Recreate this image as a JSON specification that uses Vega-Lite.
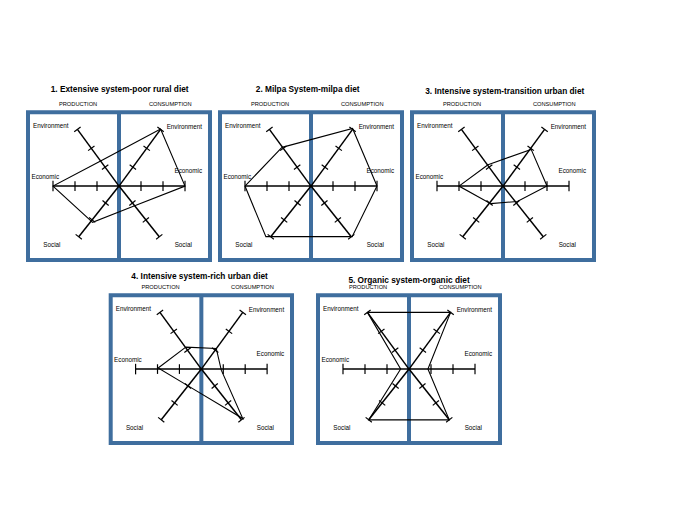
{
  "$schema": "https://vega.github.io/schema/vega-lite/v6.json",
  "background": "white",
  "padding": {"left": 26, "top": 85, "right": 0, "bottom": 0},
  "config": {"view": {"stroke": null}},
  "datasets": {
    "frame": [{"x": -4.136, "x2": 4.136, "y": -3.364, "y2": 3.364}],
    "mid": [{"x": 0, "y": -3.364, "y2": 3.364}],
    "spokes": [
      {"x": 0, "y": 0, "x2": -1.89, "y2": 2.58},
      {"x": 0, "y": 0, "x2": 1.89, "y2": 2.58},
      {"x": 0, "y": 0, "x2": -3, "y2": 0},
      {"x": 0, "y": 0, "x2": 3, "y2": 0},
      {"x": 0, "y": 0, "x2": -1.83, "y2": -2.31},
      {"x": 0, "y": 0, "x2": 1.83, "y2": -2.31}
    ],
    "ticks": [
      {"x": -1, "y": -0.22, "x2": -1, "y2": 0.22},
      {"x": -2, "y": -0.22, "x2": -2, "y2": 0.22},
      {"x": -3, "y": -0.24, "x2": -3, "y2": 0.24},
      {"x": 1, "y": -0.22, "x2": 1, "y2": 0.22},
      {"x": 2, "y": -0.22, "x2": 2, "y2": 0.22},
      {"x": 3, "y": -0.24, "x2": 3, "y2": 0.24},
      {"x": 0.485, "y": 0.966, "x2": 0.775, "y2": 0.754},
      {"x": 1.115, "y": 1.826, "x2": 1.405, "y2": 1.614},
      {"x": 1.745, "y": 2.686, "x2": 2.035, "y2": 2.474},
      {"x": -0.775, "y": 0.754, "x2": -0.485, "y2": 0.966},
      {"x": -1.405, "y": 1.614, "x2": -1.115, "y2": 1.826},
      {"x": -2.035, "y": 2.474, "x2": -1.745, "y2": 2.686},
      {"x": 0.469, "y": -0.882, "x2": 0.751, "y2": -0.658},
      {"x": 1.079, "y": -1.652, "x2": 1.361, "y2": -1.428},
      {"x": 1.689, "y": -2.422, "x2": 1.971, "y2": -2.198},
      {"x": -0.751, "y": -0.658, "x2": -0.469, "y2": -0.882},
      {"x": -1.361, "y": -1.428, "x2": -1.079, "y2": -1.652},
      {"x": -1.971, "y": -2.198, "x2": -1.689, "y2": -2.422}
    ],
    "axisLabels": [
      {"text": "Environment", "x": -3.1, "y": 2.72},
      {"text": "Economic", "x": -3.35, "y": 0.42},
      {"text": "Social", "x": -3.05, "y": -2.68},
      {"text": "Environment", "x": 2.97, "y": 2.7},
      {"text": "Economic", "x": 3.15, "y": 0.7},
      {"text": "Social", "x": 2.92, "y": -2.68}
    ],
    "headers": [
      {"text": "PRODUCTION", "x": -1.86, "y": 3.74},
      {"text": "CONSUMPTION", "x": 2.33, "y": 3.74}
    ],
    "titles": [
      {"panel": 1, "text": "1. Extensive system-poor rural diet", "x": 0.03, "y": 4.36},
      {"panel": 2, "text": "2. Milpa System-milpa diet", "x": -0.15, "y": 4.36},
      {"panel": 3, "text": "3. Intensive system-transition urban diet", "x": 0.08, "y": 4.29},
      {"panel": 4, "text": "4. Intensive system-rich urban diet", "x": -0.08, "y": 4.2},
      {"panel": 5, "text": "5. Organic system-organic diet", "x": 0, "y": 4.0}
    ],
    "polys": [
      {"panel": 1, "order": 1, "axis": "Environment (production)", "x": -0.836, "y": 1.142},
      {"panel": 1, "order": 2, "axis": "Environment (consumption)", "x": 1.89, "y": 2.6},
      {"panel": 1, "order": 3, "axis": "Economic (consumption)", "x": 3, "y": 0},
      {"panel": 1, "order": 4, "axis": "Social (consumption)", "x": 0.712, "y": -0.899},
      {"panel": 1, "order": 5, "axis": "Social (production)", "x": -1.2, "y": -1.65},
      {"panel": 1, "order": 6, "axis": "Economic (production)", "x": -3, "y": 0},
      {"panel": 1, "order": 7, "axis": "Environment (production)", "x": -0.836, "y": 1.142},
      {"panel": 2, "order": 1, "axis": "Environment (production)", "x": -1.32, "y": 1.76},
      {"panel": 2, "order": 2, "axis": "Environment (consumption)", "x": 1.89, "y": 2.62},
      {"panel": 2, "order": 3, "axis": "Economic (consumption)", "x": 3, "y": 0},
      {"panel": 2, "order": 4, "axis": "Social (consumption)", "x": 1.87, "y": -2.3},
      {"panel": 2, "order": 5, "axis": "Social (production)", "x": -2.05, "y": -2.3},
      {"panel": 2, "order": 6, "axis": "Economic (production)", "x": -3, "y": 0},
      {"panel": 2, "order": 7, "axis": "Environment (production)", "x": -1.32, "y": 1.76},
      {"panel": 3, "order": 1, "axis": "Environment (production)", "x": -0.68, "y": 0.97},
      {"panel": 3, "order": 2, "axis": "Environment (consumption)", "x": 1.28, "y": 1.67},
      {"panel": 3, "order": 3, "axis": "Economic (consumption)", "x": 2, "y": 0},
      {"panel": 3, "order": 4, "axis": "Social (consumption)", "x": 0.65, "y": -0.7},
      {"panel": 3, "order": 5, "axis": "Social (production)", "x": -0.56, "y": -0.8},
      {"panel": 3, "order": 6, "axis": "Economic (production)", "x": -2, "y": 0},
      {"panel": 3, "order": 7, "axis": "Environment (production)", "x": -0.68, "y": 0.97},
      {"panel": 4, "order": 1, "axis": "Environment (production)", "x": -0.71, "y": 1.0},
      {"panel": 4, "order": 2, "axis": "Environment (consumption)", "x": 0.68, "y": 0.94},
      {"panel": 4, "order": 3, "axis": "Economic (consumption)", "x": 0.91, "y": -0.05},
      {"panel": 4, "order": 4, "axis": "Social (consumption)", "x": 1.89, "y": -2.25},
      {"panel": 4, "order": 5, "axis": "Social (production)", "x": -0.605, "y": -0.764},
      {"panel": 4, "order": 6, "axis": "Economic (production)", "x": -1.97, "y": 0.05},
      {"panel": 4, "order": 7, "axis": "Environment (production)", "x": -0.71, "y": 1.0},
      {"panel": 5, "order": 1, "axis": "Environment (production)", "x": -1.89, "y": 2.58},
      {"panel": 5, "order": 2, "axis": "Environment (consumption)", "x": 1.89, "y": 2.58},
      {"panel": 5, "order": 3, "axis": "Economic (consumption)", "x": 0.86, "y": 0},
      {"panel": 5, "order": 4, "axis": "Social (consumption)", "x": 1.83, "y": -2.31},
      {"panel": 5, "order": 5, "axis": "Social (production)", "x": -1.83, "y": -2.31},
      {"panel": 5, "order": 6, "axis": "Economic (production)", "x": -0.38, "y": 0},
      {"panel": 5, "order": 7, "axis": "Environment (production)", "x": -1.89, "y": 2.58}
    ]
  },
  "spacing": 5,
  "vconcat": [
    {
      "spacing": 6,
      "hconcat": [
        {
          "width": 186, "height": 177,
          "layer": [
            {"data": {"name": "frame"}, "mark": {"type": "rect", "fill": "white", "stroke": "#3F6E9E", "strokeWidth": 4},
             "encoding": {"x": {"field": "x", "type": "quantitative", "scale": {"domain": [-4.227, 4.227], "nice": false, "zero": false}, "axis": null}, "x2": {"field": "x2"},
                          "y": {"field": "y", "type": "quantitative", "scale": {"domain": [-3.455, 4.6], "nice": false, "zero": false}, "axis": null}, "y2": {"field": "y2"}}},
            {"data": {"name": "mid"}, "mark": {"type": "rule", "stroke": "#3F6E9E", "strokeWidth": 4},
             "encoding": {"x": {"field": "x", "type": "quantitative", "axis": null}, "y": {"field": "y", "type": "quantitative", "axis": null}, "y2": {"field": "y2"}}},
            {"data": {"name": "spokes"}, "mark": {"type": "rule", "color": "black", "strokeWidth": 1.5},
             "encoding": {"x": {"field": "x", "type": "quantitative", "axis": null}, "y": {"field": "y", "type": "quantitative", "axis": null}, "x2": {"field": "x2"}, "y2": {"field": "y2"}}},
            {"data": {"name": "ticks"}, "mark": {"type": "rule", "color": "black", "strokeWidth": 1.2},
             "encoding": {"x": {"field": "x", "type": "quantitative", "axis": null}, "y": {"field": "y", "type": "quantitative", "axis": null}, "x2": {"field": "x2"}, "y2": {"field": "y2"}}},
            {"data": {"name": "polys"}, "transform": [{"filter": "datum.panel == 1"}], "mark": {"type": "line", "color": "black", "strokeWidth": 1.1},
             "encoding": {"x": {"field": "x", "type": "quantitative", "axis": null}, "y": {"field": "y", "type": "quantitative", "axis": null}, "order": {"field": "order", "type": "quantitative"}}},
            {"data": {"name": "axisLabels"}, "mark": {"type": "text", "font": "Liberation Sans", "fontSize": 6.3, "color": "black"},
             "encoding": {"x": {"field": "x", "type": "quantitative", "axis": null}, "y": {"field": "y", "type": "quantitative", "axis": null}, "text": {"field": "text"}}},
            {"data": {"name": "headers"}, "mark": {"type": "text", "font": "Liberation Sans", "fontSize": 5.7, "color": "black"},
             "encoding": {"x": {"field": "x", "type": "quantitative", "axis": null}, "y": {"field": "y", "type": "quantitative", "axis": null}, "text": {"field": "text"}}},
            {"data": {"name": "titles"}, "transform": [{"filter": "datum.panel == 1"}], "mark": {"type": "text", "font": "Liberation Sans", "fontSize": 8.3, "fontWeight": "bold", "color": "black"},
             "encoding": {"x": {"field": "x", "type": "quantitative", "axis": null}, "y": {"field": "y", "type": "quantitative", "axis": null}, "text": {"field": "text"}}}
          ]
        },
        {
          "width": 186, "height": 177,
          "layer": [
            {"data": {"name": "frame"}, "mark": {"type": "rect", "fill": "white", "stroke": "#3F6E9E", "strokeWidth": 4},
             "encoding": {"x": {"field": "x", "type": "quantitative", "scale": {"domain": [-4.227, 4.227], "nice": false, "zero": false}, "axis": null}, "x2": {"field": "x2"},
                          "y": {"field": "y", "type": "quantitative", "scale": {"domain": [-3.455, 4.6], "nice": false, "zero": false}, "axis": null}, "y2": {"field": "y2"}}},
            {"data": {"name": "mid"}, "mark": {"type": "rule", "stroke": "#3F6E9E", "strokeWidth": 4},
             "encoding": {"x": {"field": "x", "type": "quantitative", "axis": null}, "y": {"field": "y", "type": "quantitative", "axis": null}, "y2": {"field": "y2"}}},
            {"data": {"name": "spokes"}, "mark": {"type": "rule", "color": "black", "strokeWidth": 1.5},
             "encoding": {"x": {"field": "x", "type": "quantitative", "axis": null}, "y": {"field": "y", "type": "quantitative", "axis": null}, "x2": {"field": "x2"}, "y2": {"field": "y2"}}},
            {"data": {"name": "ticks"}, "mark": {"type": "rule", "color": "black", "strokeWidth": 1.2},
             "encoding": {"x": {"field": "x", "type": "quantitative", "axis": null}, "y": {"field": "y", "type": "quantitative", "axis": null}, "x2": {"field": "x2"}, "y2": {"field": "y2"}}},
            {"data": {"name": "polys"}, "transform": [{"filter": "datum.panel == 2"}], "mark": {"type": "line", "color": "black", "strokeWidth": 1.1},
             "encoding": {"x": {"field": "x", "type": "quantitative", "axis": null}, "y": {"field": "y", "type": "quantitative", "axis": null}, "order": {"field": "order", "type": "quantitative"}}},
            {"data": {"name": "axisLabels"}, "mark": {"type": "text", "font": "Liberation Sans", "fontSize": 6.3, "color": "black"},
             "encoding": {"x": {"field": "x", "type": "quantitative", "axis": null}, "y": {"field": "y", "type": "quantitative", "axis": null}, "text": {"field": "text"}}},
            {"data": {"name": "headers"}, "mark": {"type": "text", "font": "Liberation Sans", "fontSize": 5.7, "color": "black"},
             "encoding": {"x": {"field": "x", "type": "quantitative", "axis": null}, "y": {"field": "y", "type": "quantitative", "axis": null}, "text": {"field": "text"}}},
            {"data": {"name": "titles"}, "transform": [{"filter": "datum.panel == 2"}], "mark": {"type": "text", "font": "Liberation Sans", "fontSize": 8.3, "fontWeight": "bold", "color": "black"},
             "encoding": {"x": {"field": "x", "type": "quantitative", "axis": null}, "y": {"field": "y", "type": "quantitative", "axis": null}, "text": {"field": "text"}}}
          ]
        },
        {
          "width": 186, "height": 177,
          "layer": [
            {"data": {"name": "frame"}, "mark": {"type": "rect", "fill": "white", "stroke": "#3F6E9E", "strokeWidth": 4},
             "encoding": {"x": {"field": "x", "type": "quantitative", "scale": {"domain": [-4.227, 4.227], "nice": false, "zero": false}, "axis": null}, "x2": {"field": "x2"},
                          "y": {"field": "y", "type": "quantitative", "scale": {"domain": [-3.455, 4.6], "nice": false, "zero": false}, "axis": null}, "y2": {"field": "y2"}}},
            {"data": {"name": "mid"}, "mark": {"type": "rule", "stroke": "#3F6E9E", "strokeWidth": 4},
             "encoding": {"x": {"field": "x", "type": "quantitative", "axis": null}, "y": {"field": "y", "type": "quantitative", "axis": null}, "y2": {"field": "y2"}}},
            {"data": {"name": "spokes"}, "mark": {"type": "rule", "color": "black", "strokeWidth": 1.5},
             "encoding": {"x": {"field": "x", "type": "quantitative", "axis": null}, "y": {"field": "y", "type": "quantitative", "axis": null}, "x2": {"field": "x2"}, "y2": {"field": "y2"}}},
            {"data": {"name": "ticks"}, "mark": {"type": "rule", "color": "black", "strokeWidth": 1.2},
             "encoding": {"x": {"field": "x", "type": "quantitative", "axis": null}, "y": {"field": "y", "type": "quantitative", "axis": null}, "x2": {"field": "x2"}, "y2": {"field": "y2"}}},
            {"data": {"name": "polys"}, "transform": [{"filter": "datum.panel == 3"}], "mark": {"type": "line", "color": "black", "strokeWidth": 1.1},
             "encoding": {"x": {"field": "x", "type": "quantitative", "axis": null}, "y": {"field": "y", "type": "quantitative", "axis": null}, "order": {"field": "order", "type": "quantitative"}}},
            {"data": {"name": "axisLabels"}, "mark": {"type": "text", "font": "Liberation Sans", "fontSize": 6.3, "color": "black"},
             "encoding": {"x": {"field": "x", "type": "quantitative", "axis": null}, "y": {"field": "y", "type": "quantitative", "axis": null}, "text": {"field": "text"}}},
            {"data": {"name": "headers"}, "mark": {"type": "text", "font": "Liberation Sans", "fontSize": 5.7, "color": "black"},
             "encoding": {"x": {"field": "x", "type": "quantitative", "axis": null}, "y": {"field": "y", "type": "quantitative", "axis": null}, "text": {"field": "text"}}},
            {"data": {"name": "titles"}, "transform": [{"filter": "datum.panel == 3"}], "mark": {"type": "text", "font": "Liberation Sans", "fontSize": 8.3, "fontWeight": "bold", "color": "black"},
             "encoding": {"x": {"field": "x", "type": "quantitative", "axis": null}, "y": {"field": "y", "type": "quantitative", "axis": null}, "text": {"field": "text"}}}
          ]
        }
      ]
    },
    {
      "spacing": 21,
      "hconcat": [
        {
          "width": 268, "height": 177,
          "layer": [
            {"data": {"name": "frame"}, "mark": {"type": "rect", "fill": "white", "stroke": "#3F6E9E", "strokeWidth": 4},
             "encoding": {"x": {"field": "x", "type": "quantitative", "scale": {"domain": [-8.0, 4.227], "nice": false, "zero": false}, "axis": null}, "x2": {"field": "x2"},
                          "y": {"field": "y", "type": "quantitative", "scale": {"domain": [-3.455, 4.6], "nice": false, "zero": false}, "axis": null}, "y2": {"field": "y2"}}},
            {"data": {"name": "mid"}, "mark": {"type": "rule", "stroke": "#3F6E9E", "strokeWidth": 4},
             "encoding": {"x": {"field": "x", "type": "quantitative", "axis": null}, "y": {"field": "y", "type": "quantitative", "axis": null}, "y2": {"field": "y2"}}},
            {"data": {"name": "spokes"}, "mark": {"type": "rule", "color": "black", "strokeWidth": 1.5},
             "encoding": {"x": {"field": "x", "type": "quantitative", "axis": null}, "y": {"field": "y", "type": "quantitative", "axis": null}, "x2": {"field": "x2"}, "y2": {"field": "y2"}}},
            {"data": {"name": "ticks"}, "mark": {"type": "rule", "color": "black", "strokeWidth": 1.2},
             "encoding": {"x": {"field": "x", "type": "quantitative", "axis": null}, "y": {"field": "y", "type": "quantitative", "axis": null}, "x2": {"field": "x2"}, "y2": {"field": "y2"}}},
            {"data": {"name": "polys"}, "transform": [{"filter": "datum.panel == 4"}], "mark": {"type": "line", "color": "black", "strokeWidth": 1.1},
             "encoding": {"x": {"field": "x", "type": "quantitative", "axis": null}, "y": {"field": "y", "type": "quantitative", "axis": null}, "order": {"field": "order", "type": "quantitative"}}},
            {"data": {"name": "axisLabels"}, "mark": {"type": "text", "font": "Liberation Sans", "fontSize": 6.3, "color": "black"},
             "encoding": {"x": {"field": "x", "type": "quantitative", "axis": null}, "y": {"field": "y", "type": "quantitative", "axis": null}, "text": {"field": "text"}}},
            {"data": {"name": "headers"}, "mark": {"type": "text", "font": "Liberation Sans", "fontSize": 5.7, "color": "black"},
             "encoding": {"x": {"field": "x", "type": "quantitative", "axis": null}, "y": {"field": "y", "type": "quantitative", "axis": null}, "text": {"field": "text"}}},
            {"data": {"name": "titles"}, "transform": [{"filter": "datum.panel == 4"}], "mark": {"type": "text", "font": "Liberation Sans", "fontSize": 8.3, "fontWeight": "bold", "color": "black"},
             "encoding": {"x": {"field": "x", "type": "quantitative", "axis": null}, "y": {"field": "y", "type": "quantitative", "axis": null}, "text": {"field": "text"}}}
          ]
        },
        {
          "width": 186, "height": 177,
          "layer": [
            {"data": {"name": "frame"}, "mark": {"type": "rect", "fill": "white", "stroke": "#3F6E9E", "strokeWidth": 4},
             "encoding": {"x": {"field": "x", "type": "quantitative", "scale": {"domain": [-4.227, 4.227], "nice": false, "zero": false}, "axis": null}, "x2": {"field": "x2"},
                          "y": {"field": "y", "type": "quantitative", "scale": {"domain": [-3.455, 4.6], "nice": false, "zero": false}, "axis": null}, "y2": {"field": "y2"}}},
            {"data": {"name": "mid"}, "mark": {"type": "rule", "stroke": "#3F6E9E", "strokeWidth": 4},
             "encoding": {"x": {"field": "x", "type": "quantitative", "axis": null}, "y": {"field": "y", "type": "quantitative", "axis": null}, "y2": {"field": "y2"}}},
            {"data": {"name": "spokes"}, "mark": {"type": "rule", "color": "black", "strokeWidth": 1.5},
             "encoding": {"x": {"field": "x", "type": "quantitative", "axis": null}, "y": {"field": "y", "type": "quantitative", "axis": null}, "x2": {"field": "x2"}, "y2": {"field": "y2"}}},
            {"data": {"name": "ticks"}, "mark": {"type": "rule", "color": "black", "strokeWidth": 1.2},
             "encoding": {"x": {"field": "x", "type": "quantitative", "axis": null}, "y": {"field": "y", "type": "quantitative", "axis": null}, "x2": {"field": "x2"}, "y2": {"field": "y2"}}},
            {"data": {"name": "polys"}, "transform": [{"filter": "datum.panel == 5"}], "mark": {"type": "line", "color": "black", "strokeWidth": 1.1},
             "encoding": {"x": {"field": "x", "type": "quantitative", "axis": null}, "y": {"field": "y", "type": "quantitative", "axis": null}, "order": {"field": "order", "type": "quantitative"}}},
            {"data": {"name": "axisLabels"}, "mark": {"type": "text", "font": "Liberation Sans", "fontSize": 6.3, "color": "black"},
             "encoding": {"x": {"field": "x", "type": "quantitative", "axis": null}, "y": {"field": "y", "type": "quantitative", "axis": null}, "text": {"field": "text"}}},
            {"data": {"name": "headers"}, "mark": {"type": "text", "font": "Liberation Sans", "fontSize": 5.7, "color": "black"},
             "encoding": {"x": {"field": "x", "type": "quantitative", "axis": null}, "y": {"field": "y", "type": "quantitative", "axis": null}, "text": {"field": "text"}}},
            {"data": {"name": "titles"}, "transform": [{"filter": "datum.panel == 5"}], "mark": {"type": "text", "font": "Liberation Sans", "fontSize": 8.3, "fontWeight": "bold", "color": "black"},
             "encoding": {"x": {"field": "x", "type": "quantitative", "axis": null}, "y": {"field": "y", "type": "quantitative", "axis": null}, "text": {"field": "text"}}}
          ]
        }
      ]
    }
  ]
}
